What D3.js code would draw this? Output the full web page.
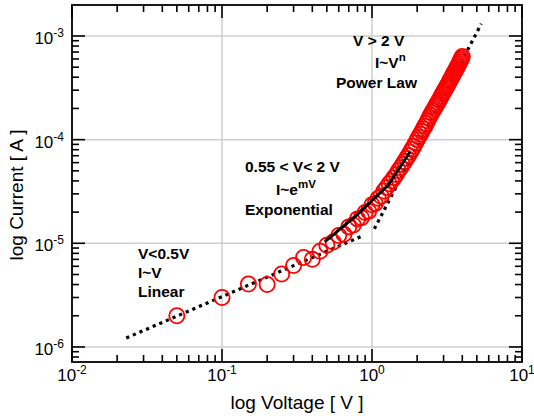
<!DOCTYPE html>
<html><head><meta charset="utf-8">
<script src="https://cdn.jsdelivr.net/npm/d3@7"></script>
<style>body{margin:0;background:#fff}svg{display:block}text{font-family:"Liberation Sans",Arial,sans-serif}</style>
</head><body><svg id="c" width="534" height="419"></svg>
<script>
// ---- data ----
const voltage = [0.05,0.10,0.15,0.20,0.25,0.30,0.35,0.40,0.45,0.50,
 0.55,0.60,0.65,0.70,0.75,0.80,0.85,0.90,0.95,1.00,
 1.05,1.10,1.15,1.20,1.25,1.30,1.35,1.40,1.45,1.50,
 1.55,1.60,1.65,1.70,1.75,1.80,1.85,1.90,1.95,2.00,
 2.05,2.10,2.15,2.20,2.25,2.30,2.35,2.40,2.45,2.50,
 2.55,2.60,2.65,2.70,2.75,2.80,2.85,2.90,2.95,3.00,
 3.05,3.10,3.15,3.20,3.25,3.30,3.35,3.40,3.45,3.50,
 3.55,3.60,3.65,3.70,3.75,3.80,3.85,3.90,3.95,4.00];
const current = [2.0e-6,3.0e-6,4.05e-6,4.0e-6,5.05e-6,6.1e-6,7.3e-6,7.0e-6,8.4e-6,9.6e-6,
 1.03e-5,1.19e-5,1.22e-5,1.44e-5,1.5e-5,1.72e-5,1.76e-5,1.98e-5,2.04e-5,2.35e-5,
 2.42e-5,2.72e-5,2.85e-5,3.2e-5,3.45e-5,3.75e-5,4.0e-5,4.3e-5,4.6e-5,5.0e-5,
 5.35e-5,5.75e-5,6.15e-5,6.6e-5,7.05e-5,7.55e-5,8.1e-5,8.65e-5,9.3e-5,1.0e-4,
 1.06e-4,1.13e-4,1.2e-4,1.27e-4,1.35e-4,1.43e-4,1.52e-4,1.62e-4,1.72e-4,1.82e-4,
 1.9e-4,1.99e-4,2.09e-4,2.19e-4,2.29e-4,2.4e-4,2.51e-4,2.63e-4,2.75e-4,2.88e-4,
 3.0e-4,3.13e-4,3.26e-4,3.4e-4,3.54e-4,3.69e-4,3.84e-4,4.0e-4,4.17e-4,4.34e-4,
 4.5e-4,4.68e-4,4.86e-4,5.04e-4,5.23e-4,5.43e-4,5.64e-4,5.86e-4,6.1e-4,6.35e-4];
// fit lines [V, I]
const linearFit = [[0.023,1.22e-6],[0.878,1.19e-5]];
const powerFit = [[1.037,1.38e-5],[5.35,1.31e-3]];
const expFit = [[0.486,1.04e-5],[0.791,1.87e-5],[1.284,3.65e-5],[1.79,7.6e-5]];
// ticks
const xMajor = [0.01,0.1,1,10];
const xExp = ["-2","-1","0","1"];
const yMajor = [1e-6,1e-5,1e-4,1e-3];
const yExp = ["-6","-5","-4","-3"];

// ---- layout ----
const L=72,R=522,T=5,B=362;
const svg=d3.select("#c");
const x=d3.scaleLog().domain([0.01,10]).range([L,R]);
const y=d3.scaleLog().domain([7.16e-7,1.99e-3]).range([B,T]);

// minor ticks
const minorX=[], minorY=[];
[0.01,0.1,1].forEach(d=>{for(let k=2;k<=9;k++)minorX.push(d*k);});
[1e-7,1e-6,1e-5,1e-4,1e-3].forEach(d=>{for(let k=2;k<=9;k++){const v=d*k; if(v>7.2e-7&&v<1.99e-3)minorY.push(v);}});

const g=svg.append("g");
// grid
g.selectAll(".gx").data(xMajor.slice(1,3)).join("line")
 .attr("x1",d=>x(d)).attr("x2",d=>x(d)).attr("y1",T).attr("y2",B)
 .attr("stroke","#cfcfcf").attr("stroke-width",1.5);
g.selectAll(".gy").data(yMajor).join("line")
 .attr("y1",d=>y(d)).attr("y2",d=>y(d)).attr("x1",L).attr("x2",R)
 .attr("stroke","#cfcfcf").attr("stroke-width",1.5);

// ticks
const tk=g.append("g").attr("stroke","#000").attr("stroke-width",1.6);
const minL=7, majL=13;
minorX.forEach(v=>{
 tk.append("line").attr("x1",x(v)).attr("x2",x(v)).attr("y1",B).attr("y2",B-minL);
 tk.append("line").attr("x1",x(v)).attr("x2",x(v)).attr("y1",T).attr("y2",T+minL);
});
xMajor.forEach(v=>{
 tk.append("line").attr("x1",x(v)).attr("x2",x(v)).attr("y1",B).attr("y2",B-majL);
 tk.append("line").attr("x1",x(v)).attr("x2",x(v)).attr("y1",T).attr("y2",T+majL);
});
minorY.forEach(v=>{
 tk.append("line").attr("y1",y(v)).attr("y2",y(v)).attr("x1",L).attr("x2",L+minL);
 tk.append("line").attr("y1",y(v)).attr("y2",y(v)).attr("x1",R).attr("x2",R-minL);
});
yMajor.forEach(v=>{
 tk.append("line").attr("y1",y(v)).attr("y2",y(v)).attr("x1",L).attr("x2",L+majL);
 tk.append("line").attr("y1",y(v)).attr("y2",y(v)).attr("x1",R).attr("x2",R-majL);
});

// fit lines
const line=d3.line().x(d=>x(d[0])).y(d=>y(d[1]));
g.append("path").attr("d",line(linearFit)).attr("fill","none").attr("stroke","#000")
 .attr("stroke-width",3.2).attr("stroke-dasharray","3.2,4");
g.append("path").attr("d",line(powerFit)).attr("fill","none").attr("stroke","#000")
 .attr("stroke-width",3.2).attr("stroke-dasharray","3.2,4");

// data
g.selectAll("circle.d").data(voltage.map((v,i)=>[v,current[i]])).join("circle")
 .attr("cx",d=>x(d[0])).attr("cy",d=>y(d[1])).attr("r",7.6)
 .attr("fill","none").attr("stroke","#ff0000").attr("stroke-width",1.8);

g.append("path").attr("d",line(expFit)).attr("fill","none").attr("stroke","#000")
 .attr("stroke-width",3);

// frame
g.append("rect").attr("x",L).attr("y",T).attr("width",R-L).attr("height",B-T)
 .attr("fill","none").attr("stroke","#000").attr("stroke-width",1.8);

// tick labels
xMajor.forEach((v,i)=>{
 const t=svg.append("text").attr("x",x(v)).attr("y",381).attr("text-anchor","middle").attr("font-size",17);
 t.append("tspan").text("10");
 t.append("tspan").attr("dy",-7).attr("font-size",12).text(xExp[i]);
});
yMajor.forEach((v,i)=>{
 const t=svg.append("text").attr("x",64).attr("y",y(v)+8).attr("text-anchor","end").attr("font-size",17);
 t.append("tspan").text("10");
 t.append("tspan").attr("dy",-7).attr("font-size",12).text(yExp[i]);
});

// axis titles
svg.append("text").attr("x",297).attr("y",409).attr("text-anchor","middle").attr("font-size",19).text("log Voltage [ V ]");
svg.append("text").attr("transform","translate(23,195) rotate(-90)").attr("text-anchor","middle").attr("font-size",19).text("log Current [ A ]");

// annotations
function ann(xp,yp,parts,anchor){
 const t=svg.append("text").attr("x",xp).attr("y",yp).attr("font-size",15.5).attr("font-weight","bold").attr("text-anchor",anchor||"start");
 parts.forEach(p=>{const s=t.append("tspan").text(p[0]); if(p[1]){s.attr("dy",p[1]).attr("font-size",11.5);} });
}
ann(353,46,[["V > 2 V"]]);
ann(375,68,[["I~V"],["n",-7]]);
ann(336,88,[["Power Law"]]);
ann(245,172,[["0.55 < V< 2 V"]]);
ann(276,195,[["I~e"],["mV",-7]]);
ann(245,215,[["Exponential"]]);
ann(138,259,[["V<0.5V"]]);
ann(138,278,[["I~V"]]);
ann(138,297,[["Linear"]]);
</script></body></html>
